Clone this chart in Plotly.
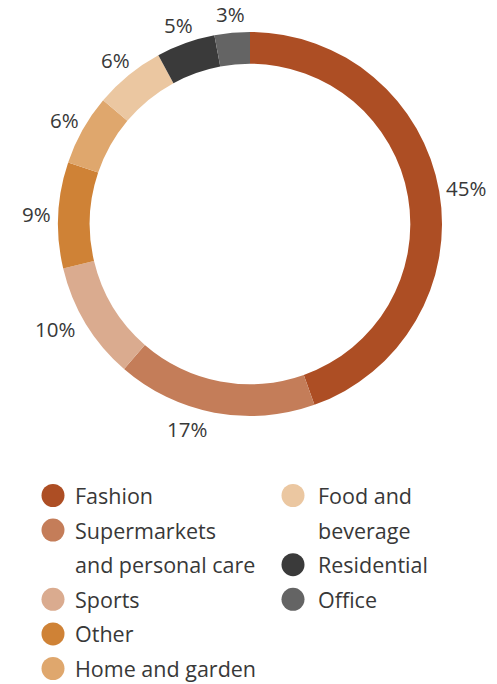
import math
import plotly.graph_objects as go

# ---- data ----
categories = ["Fashion", "Supermarkets\nand personal care", "Sports", "Other",
              "Home and garden", "Food and\nbeverage", "Residential", "Office"]
values = [45, 17, 10, 9, 6, 6, 5, 3]
colors = ["#AD4E24", "#C47D59", "#DAAB8F", "#CF8236", "#DFA76D",
          "#EBC7A1", "#3A3A3A", "#646464"]

W, H = 497, 684
FONT = "Open Sans"
TXT = "#383838"
LABEL_SIZE = 20.5
LEGEND_SIZE = 21.5

# pie geometry (pixels)
cx, cy, R = 250, 224, 192

fig = go.Figure()
fig.add_trace(go.Pie(
    labels=[c.replace("\n", " ") for c in categories],
    values=values,
    sort=False,
    direction="clockwise",
    rotation=0,
    hole=0.835,
    marker=dict(colors=colors, line=dict(width=0)),
    textinfo="none",
    domain=dict(x=[(cx - R) / W, (cx + R) / W],
                y=[(H - cy - R) / H, (H - cy + R) / H]),
    showlegend=False,
    hoverinfo="label+value",
))

annotations, shapes = [], []

# ---- outside percentage labels ----
total = sum(values)
cum = 0.0
for v in values:
    mid = (cum + v / 2) / total * 2 * math.pi
    cum += v
    txt = f"{v}%"
    hw = (0.572 * (len(txt) - 1) + 0.823) * LABEL_SIZE / 2
    hh = 0.6 * LABEL_SIZE
    ux, uy = math.sin(mid), -math.cos(mid)
    if uy < 0:
        # upper half: text box pushed out along the radius
        d = R + 7
        tx = cx + d * ux + ux * hw
        ty = cy + d * uy + uy * hh
    else:
        # lower half: corner-anchored outside text
        d = R + 5
        px, py = d * ux, d * uy
        dx = hw if px >= 0 else -hw
        ox = dx + hh * (1 if dx > 0 else -1) / 2
        oy = hh / (1 + (px * px) / (py * py)) if py != 0 else 0
        tx, ty = cx + px + ox, cy + py + oy
    annotations.append(dict(
        text=txt, xref="paper", yref="paper", x=tx / W, y=1 - ty / H,
        xanchor="center", yanchor="middle", showarrow=False,
        font=dict(family=FONT, size=LABEL_SIZE, color=TXT)))

# ---- custom two-column legend ----
col_x = [(53, 72.5), (293, 316)]   # circle center x, text x
row0, row_step = 495.5, 34.6
split = 5
row, col = 0, 0
for i, (lab, colr) in enumerate(zip(categories, colors)):
    if i == split:
        col, row = 1, 0
    ccx, tx = col_x[col]
    yc = row0 + row * row_step
    shapes.append(dict(
        type="circle", xref="paper", yref="paper",
        xsizemode="pixel", ysizemode="pixel",
        xanchor=ccx / W, yanchor=1 - yc / H,
        x0=-11.5, x1=11.5, y0=-11.5, y1=11.5,
        fillcolor=colr, line=dict(width=0)))
    for line in lab.split("\n"):
        yl = row0 + row * row_step
        annotations.append(dict(
            text=line, xref="paper", yref="paper",
            x=tx / W, y=1 - yl / H, xanchor="left", yanchor="middle",
            showarrow=False, font=dict(family=FONT, size=LEGEND_SIZE, color=TXT)))
        row += 1

fig.update_layout(
    width=W, height=H,
    margin=dict(l=0, r=0, t=0, b=0),
    paper_bgcolor="white", plot_bgcolor="white",
    shapes=shapes, annotations=annotations,
    font=dict(family=FONT),
)

fig.write_html("out.html")
